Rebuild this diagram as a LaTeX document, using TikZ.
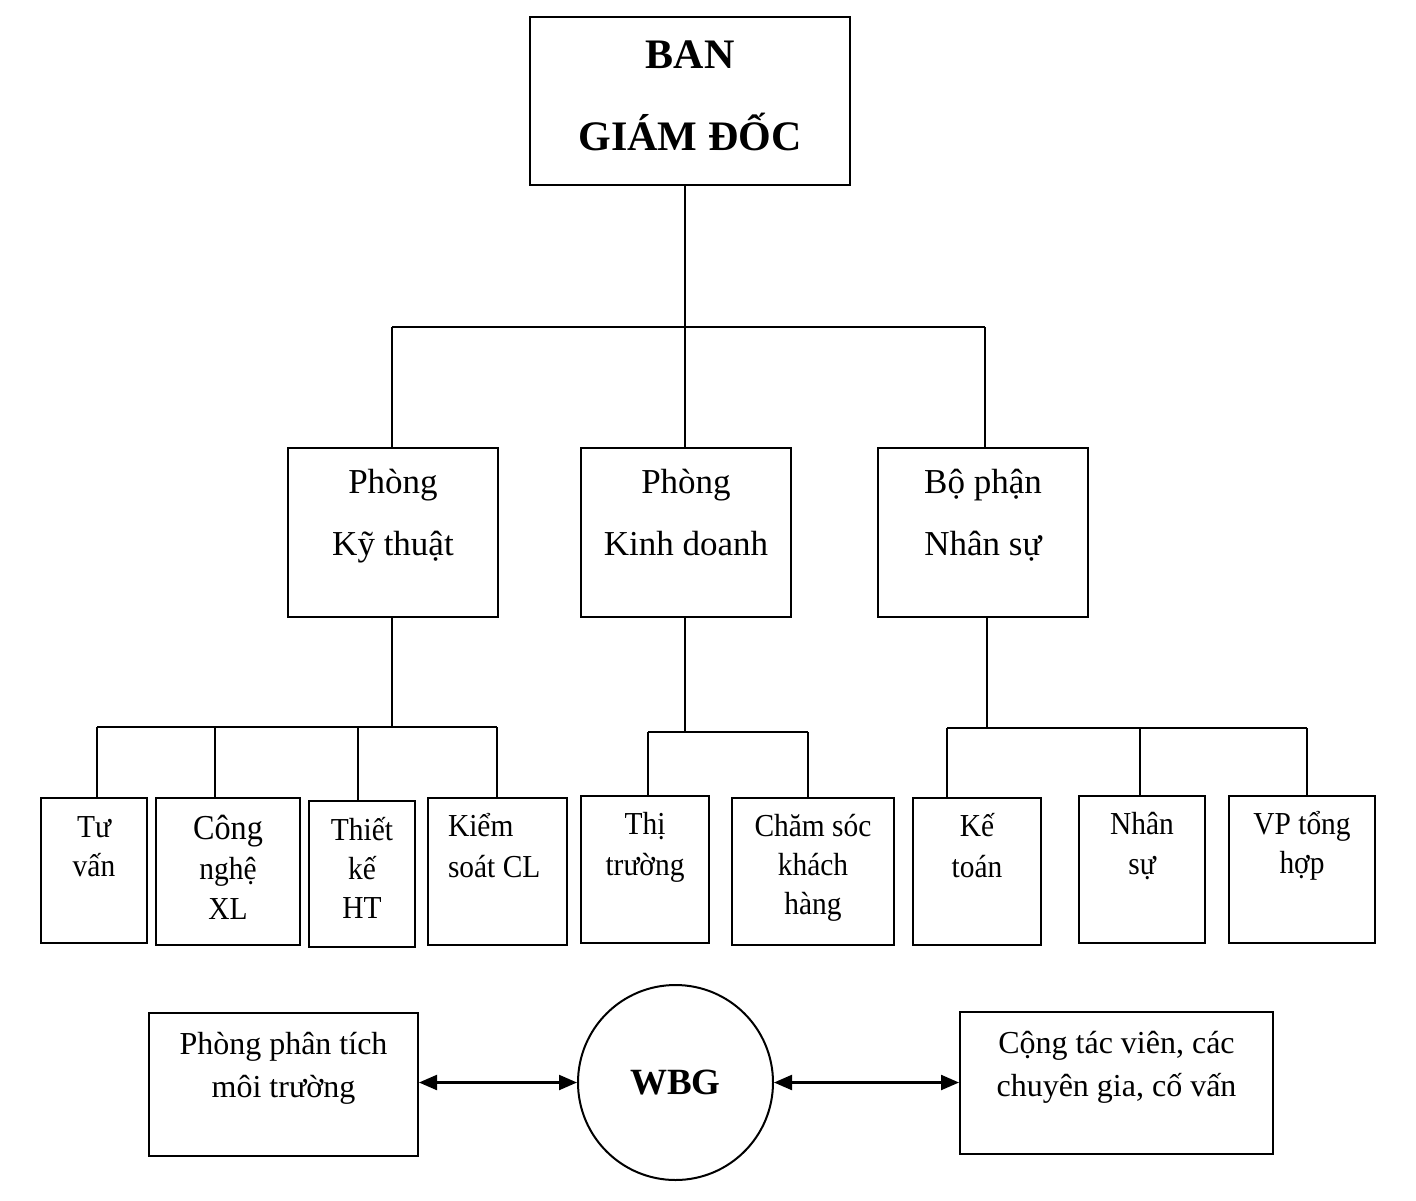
\documentclass[tikz,border=0pt]{standalone}
\usepackage{fontspec}
\setmainfont{Liberation Serif}
\newfontfamily\narrowserif[FakeStretch=0.92]{Liberation Serif}
\usetikzlibrary{arrows.meta}
\newcommand{\bxt}[4]{\parbox[t][#2][t]{#1}{\centering\rule{0pt}{#3}#4}}
\tikzset{
  bx/.style={draw, line width=2pt, inner sep=0pt, anchor=north west},
  conn/.style={line width=2pt},
  biarrow/.style={line width=2.2pt, {Triangle[length=18pt,width=15pt]}-{Triangle[length=18pt,width=15pt]}},
  fbig/.style={font=\fontsize{42}{82}\selectfont\bfseries},
  fmid/.style={font=\fontsize{35}{62}\selectfont},
  fsmall/.style={font=\narrowserif\fontsize{32}{39}\selectfont},
  frow/.style={font=\fontsize{32}{43}\selectfont},
}
\begin{document}
\begin{tikzpicture}[x=1pt,y=-1pt]
\useasboundingbox[fill=white] (0,0) rectangle (1416,1200);
% top
\node[bx,fbig] (bgd) at (529,16) {\bxt{320pt}{168pt}{51pt}{BAN\\GIÁM ĐỐC}};
% middle
\node[bx,fmid] (pkt) at (287,447) {\bxt{210pt}{169pt}{45pt}{Phòng\\Kỹ thuật}};
\node[bx,fmid] (pkd) at (580,447) {\bxt{210pt}{169pt}{45pt}{Phòng\\Kinh doanh}};
\node[bx,fmid] (bns) at (877,447) {\bxt{210pt}{169pt}{45pt}{Bộ phận\\Nhân sự}};
% bottom
\node[bx,fsmall] (tv) at (40,797) {\bxt{106pt}{145pt}{39pt}{Tư\\vấn}};
\node[bx,fsmall] (cn) at (155,797) {\parbox[t][147pt][t]{144pt}{\centering\rule{0pt}{41pt}{\fontsize{35}{40}\selectfont Công\\}\fontsize{32}{40}\selectfont nghệ\\XL}};
\node[bx,fsmall] (tk) at (308,800) {\bxt{106pt}{146pt}{39pt}{Thiết\\kế\\HT}};
\node[bx,fsmall] (ks) at (427,797) {\parbox[t][147pt][t]{139pt}{\raggedright\leftskip=20pt\fontsize{32}{41}\selectfont\rule{0pt}{38pt}Kiểm\\soát CL}};
\node[bx,fsmall] (tt) at (580,795) {\bxt{128pt}{147pt}{38pt}{\fontsize{32}{41}\selectfont Thị\\trường}};
\node[bx,fsmall] (cs) at (731,797) {\bxt{162pt}{147pt}{38pt}{Chăm sóc\\khách\\hàng}};
\node[bx,fsmall] (kto) at (912,797) {\bxt{128pt}{147pt}{38pt}{\fontsize{32}{41}\selectfont Kế\\toán}};
\node[bx,fsmall] (nsu) at (1078,795) {\bxt{126pt}{147pt}{38pt}{\fontsize{32}{40}\selectfont Nhân\\sự}};
\node[bx,fsmall] (vp) at (1228,795) {\bxt{146pt}{147pt}{38pt}{VP tổng\\hợp}};
% bottom row
\node[bx,frow] (pt) at (148,1012) {\bxt{269pt}{143pt}{41pt}{Phòng phân tích\\môi trường}};
\node[bx,frow] (ctv) at (959,1011) {\bxt{313pt}{142pt}{41pt}{Cộng tác viên, các\\chuyên gia, cố vấn}};
\node[draw, line width=2pt, circle, minimum size=195pt, inner sep=0pt, font=\fontsize{37}{40}\selectfont\bfseries] (wbg) at (675.5,1082.5) {WBG};
% connector coordinates
\coordinate (h1) at (685,327);
\coordinate (h1l) at (392,327);
\coordinate (h1r) at (985,327);
\coordinate (h2) at (392,727);
\coordinate (h2a) at (97,727);
\coordinate (h2b) at (215,727);
\coordinate (h2c) at (358,727);
\coordinate (h2d) at (497,727);
\coordinate (h3) at (685,732);
\coordinate (h3a) at (648,732);
\coordinate (h3b) at (808,732);
\coordinate (h4) at (987,728);
\coordinate (h4a) at (947,728);
\coordinate (h4b) at (1140,728);
\coordinate (h4c) at (1307,728);
% level 1
\draw[conn] (bgd.south -| h1) -- (h1);
\draw[conn] (h1l) -- (h1r);
\draw[conn] (h1l) -- (h1l |- pkt.north);
\draw[conn] (h1) -- (h1 |- pkd.north);
\draw[conn] (h1r) -- (h1r |- bns.north);
% level 2 - Ky thuat
\draw[conn] (pkt.south -| h2) -- (h2);
\draw[conn] (h2a) -- (h2d);
\draw[conn] (h2a) -- (h2a |- tv.north);
\draw[conn] (h2b) -- (h2b |- cn.north);
\draw[conn] (h2c) -- (h2c |- tk.north);
\draw[conn] (h2d) -- (h2d |- ks.north);
% level 2 - Kinh doanh
\draw[conn] (pkd.south -| h3) -- (h3);
\draw[conn] (h3a) -- (h3b);
\draw[conn] (h3a) -- (h3a |- tt.north);
\draw[conn] (h3b) -- (h3b |- cs.north);
% level 2 - Nhan su
\draw[conn] (bns.south -| h4) -- (h4);
\draw[conn] (h4a) -- (h4c);
\draw[conn] (h4a) -- (h4a |- kto.north);
\draw[conn] (h4b) -- (h4b |- nsu.north);
\draw[conn] (h4c) -- (h4c |- vp.north);
% arrows
\draw[biarrow] (pt.east |- wbg.west) -- (wbg.west);
\draw[biarrow] (wbg.east) -- (wbg.east -| ctv.west);
\end{tikzpicture}
\end{document}
